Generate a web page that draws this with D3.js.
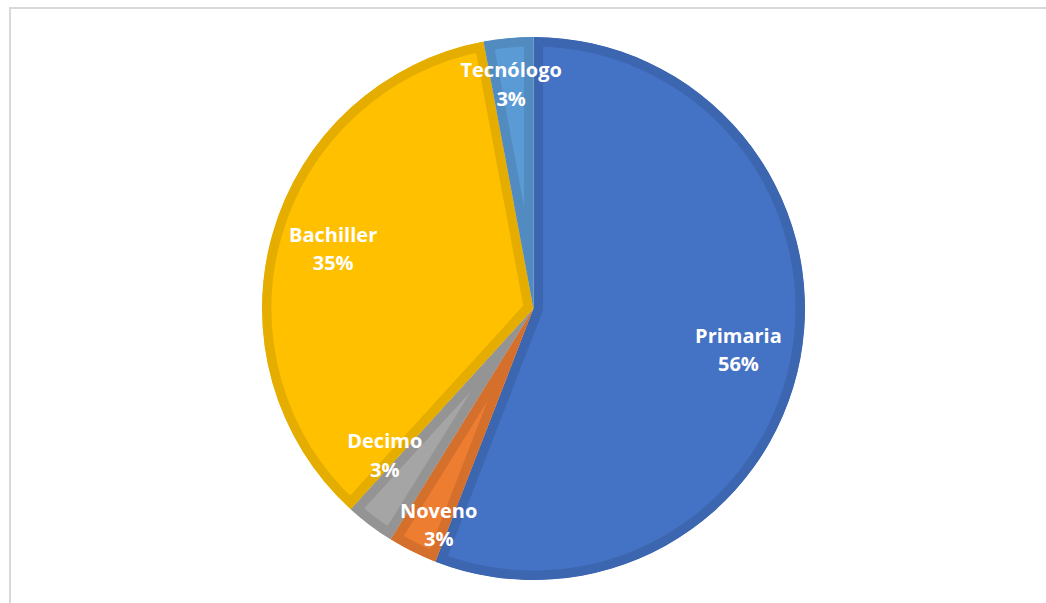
<!DOCTYPE html>
<html>
<head>
<meta charset="utf-8">
<script src="https://cdn.jsdelivr.net/npm/d3@7"></script>
<style>
  body { margin: 0; background: #fff; }
  svg { display: block; }
</style>
</head>
<body>
<svg id="chart" width="1046" height="603"></svg>
<script>
// data (19+1+1+12+1 = 34 answers)
var categories = ["Primaria", "Noveno", "Decimo", "Bachiller", "Tecnólogo"];
var counts = [19, 1, 1, 12, 1];
var colors = ["#4472C4", "#ED7D31", "#A5A5A5", "#FFC000", "#5B9BD5"];

var svg = d3.select("#chart"),
    width = +svg.attr("width"),
    height = +svg.attr("height");

// chart frame (right / bottom edges are off the picture)
svg.append("rect")
  .attr("x", 10).attr("y", 8)
  .attr("width", 1060).attr("height", 620)
  .attr("fill", "none")
  .attr("stroke", "#d9d9d9")
  .attr("stroke-width", 2);

var cx = 533.5, cy = 308.5, radius = 271.5;
var total = d3.sum(counts);

var data = categories.map(function(c, i) { return {name: c, value: counts[i], color: colors[i]}; });

var pie = d3.pie()
  .sort(null)
  .value(function(d) { return d.value; })
  (data);

var arc = d3.arc().innerRadius(0).outerRadius(radius);

var g = svg.append("g").attr("transform", "translate(" + cx + "," + cy + ")");

var defs = svg.append("defs");

pie.forEach(function(d, i) {
  defs.append("clipPath").attr("id", "clip" + i)
    .append("path").attr("d", arc(d));
});

// slices with an inner border in a darker shade
g.selectAll("path.slice")
  .data(pie)
  .enter().append("path")
  .attr("class", "slice")
  .attr("d", arc)
  .attr("clip-path", function(d, i) { return "url(#clip" + i + ")"; })
  .attr("fill", function(d) { return d.data.color; })
  .attr("stroke", function(d) { return d3.color(d.data.color).darker(0.3); })
  .attr("stroke-width", 19)
  .attr("stroke-linejoin", "miter");

// label placement: radius factor and angle nudge (deg) per slice, like excel best fit
var labelTweak = {
  "Primaria":  {k: 0.77, da: 0.8},
  "Noveno":    {k: 0.87, da: -2.8},
  "Decimo":    {k: 0.77, da: 8.3},
  "Bachiller": {k: 0.77, da: 0.7},
  "Tecnólogo": {k: 0.83, da: -0.4}
};

var labels = g.selectAll("text.lbl")
  .data(pie)
  .enter().append("text")
  .attr("class", "lbl")
  .attr("text-anchor", "middle")
  .attr("fill", "#fff")
  .style("font-family", "'Open Sans', sans-serif")
  .style("font-weight", "bold")
  .style("font-size", "20px")
  .attr("transform", function(d) {
    var t = labelTweak[d.data.name];
    var a = (d.startAngle + d.endAngle) / 2 + t.da * Math.PI / 180;
    var r = radius * t.k;
    return "translate(" + (Math.sin(a) * r) + "," + (-Math.cos(a) * r) + ")";
  });

labels.append("tspan")
  .attr("x", 0).attr("y", -7)
  .text(function(d) { return d.data.name; });

labels.append("tspan")
  .attr("x", 0).attr("y", 21.5)
  .text(function(d) { return Math.round(d.data.value / total * 100) + "%"; });
</script>
</body>
</html>
